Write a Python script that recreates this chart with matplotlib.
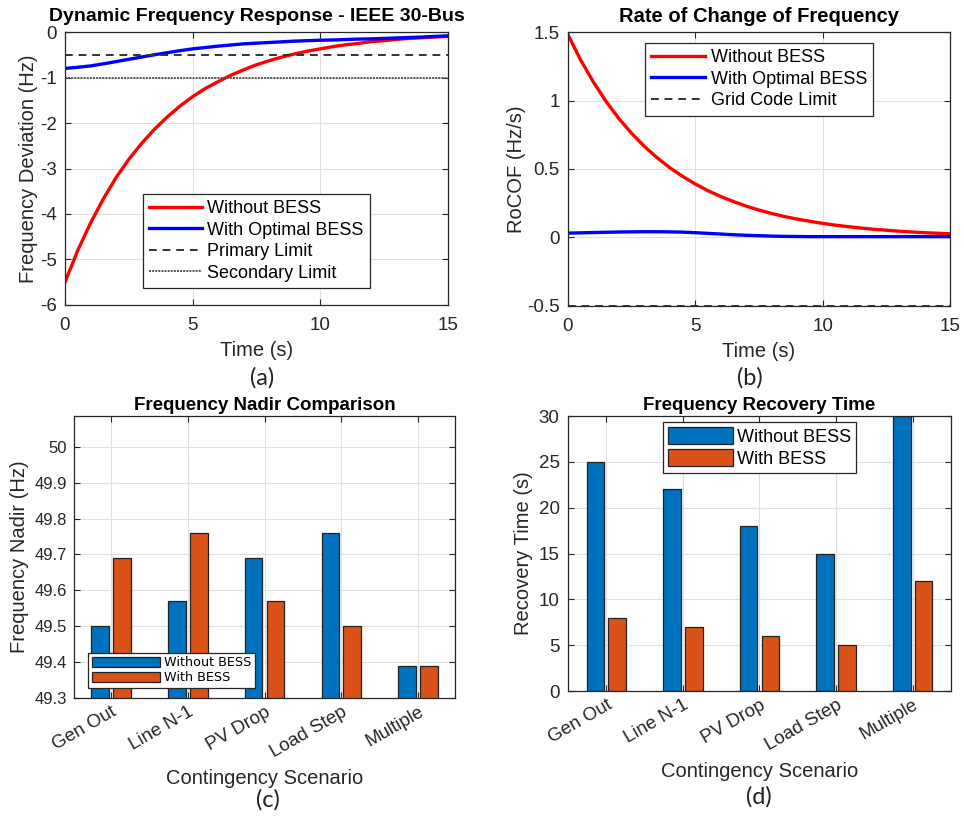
import matplotlib
matplotlib.use('Agg')
import matplotlib.pyplot as plt

plt.rcParams['font.family'] = ['Liberation Sans', 'DejaVu Sans']
plt.rcParams['axes.unicode_minus'] = False

# Time response data (s)
t = [0, 0.5, 1, 1.5, 2, 2.5, 3, 3.5, 4, 4.5, 5, 5.5, 6, 6.5, 7, 7.5,
     8, 8.5, 9, 9.5, 10, 10.5, 11, 11.5, 12, 12.5, 13, 13.5, 14, 14.5, 15]

# Frequency deviation (Hz)
df_no_bess = [-5.50, -4.80, -4.20, -3.67, -3.20, -2.80, -2.45, -2.14, -1.87, -1.63,
              -1.42, -1.24, -1.09, -0.95, -0.83, -0.72, -0.63, -0.55, -0.48, -0.42,
              -0.37, -0.32, -0.28, -0.25, -0.21, -0.19, -0.16, -0.14, -0.125, -0.11, -0.095]
df_bess = [-0.80, -0.775, -0.745, -0.70, -0.65, -0.60, -0.55, -0.50, -0.455, -0.41,
           -0.37, -0.34, -0.31, -0.285, -0.26, -0.245, -0.23, -0.215, -0.20, -0.19,
           -0.18, -0.175, -0.165, -0.155, -0.15, -0.14, -0.13, -0.12, -0.11, -0.095, -0.085]
primary_limit = -0.5
secondary_limit = -1.0

# RoCoF (Hz/s)
rocof_no_bess = [1.48, 1.295, 1.134, 0.992, 0.868, 0.760, 0.665, 0.582, 0.509, 0.446,
                 0.390, 0.341, 0.299, 0.262, 0.229, 0.200, 0.175, 0.153, 0.134, 0.118,
                 0.103, 0.090, 0.079, 0.069, 0.060, 0.053, 0.046, 0.040, 0.035, 0.031, 0.027]
rocof_bess = [0.032, 0.034, 0.036, 0.038, 0.040, 0.041, 0.042, 0.042, 0.041, 0.039,
              0.035, 0.030, 0.025, 0.020, 0.016, 0.013, 0.010, 0.008, 0.007, 0.006,
              0.006, 0.006, 0.006, 0.006, 0.006, 0.006, 0.006, 0.006, 0.006, 0.006, 0.006]
grid_code_limit = -0.5

# Contingency scenarios
scenarios = ['Gen Out', 'Line N-1', 'PV Drop', 'Load Step', 'Multiple']
nadir_no_bess = [49.50, 49.57, 49.69, 49.76, 49.39]
nadir_bess = [49.69, 49.76, 49.57, 49.50, 49.39]
recovery_no_bess = [25, 22, 18, 15, 30]
recovery_bess = [8, 7, 6, 5, 12]

TXT = '#262626'
BLUE = '#0072BD'
ORANGE = '#D95319'


def matlab_style(ax):
    ax.grid(True, color='#e0e0e0', linewidth=0.8)
    ax.set_axisbelow(True)
    ax.tick_params(direction='in', top=True, right=True, colors=TXT,
                   labelsize=13.5, length=4, width=0.8, pad=6)
    for s in ax.spines.values():
        s.set_color(TXT)
        s.set_linewidth(0.9)


fig = plt.figure(figsize=(9.64, 8.17), dpi=100)

# (a) frequency deviation
ax1 = fig.add_axes([0.0674, 0.6267, 0.3973, 0.3341])
ax1.plot(t, df_no_bess, color='red', lw=2.4, label='Without BESS')
ax1.plot(t, df_bess, color='blue', lw=2.4, label='With Optimal BESS')
ax1.axhline(primary_limit, color='#333333', ls=(0, (4, 3)), lw=1.4, label='Primary Limit')
ax1.axhline(secondary_limit, color='#555555', ls=(0, (1, 0.6)), lw=1.4, label='Secondary Limit')
ax1.set_xlim(0, 15)
ax1.set_ylim(-6, 0)
ax1.set_xticks([0, 5, 10, 15])
ax1.set_yticks([-6, -5, -4, -3, -2, -1, 0])
matlab_style(ax1)
ax1.tick_params(axis='x', pad=9)
ax1.set_title('Dynamic Frequency Response - IEEE 30-Bus', fontsize=14,
              fontweight='bold', pad=8)
ax1.set_xlabel('Time (s)', fontsize=14.5, color=TXT, labelpad=5)
ax1.set_ylabel('Frequency Deviation (Hz)', fontsize=14.5, color=TXT, labelpad=1)
leg = ax1.legend(loc='upper center', bbox_to_anchor=(0.5, 0.407), fontsize=13,
                 handlelength=2.9, borderaxespad=0, fancybox=False,
                 edgecolor=TXT, framealpha=1, labelspacing=0.25,
                 handletextpad=0.3, borderpad=0.35)
leg.get_frame().set_linewidth(0.9)

# (b) RoCoF
ax2 = fig.add_axes([0.5892, 0.6255, 0.3963, 0.3353])
ax2.plot(t, rocof_no_bess, color='red', lw=2.4, label='Without BESS')
ax2.plot(t, rocof_bess, color='blue', lw=2.4, label='With Optimal BESS')
ax2.axhline(grid_code_limit, color='#333333', ls=(0, (4, 3)), lw=1.4, label='Grid Code Limit')
ax2.set_xlim(0, 15)
ax2.set_ylim(-0.5, 1.5)
ax2.set_xticks([0, 5, 10, 15])
ax2.set_yticks([-0.5, 0, 0.5, 1, 1.5])
ax2.set_yticklabels(['-0.5', '0', '0.5', '1', '1.5'])
matlab_style(ax2)
ax2.tick_params(axis='x', pad=9)
ax2.set_title('Rate of Change of Frequency', fontsize=14.5, fontweight='bold', pad=7)
ax2.set_xlabel('Time (s)', fontsize=14.5, color=TXT, labelpad=5)
ax2.set_ylabel('RoCOF (Hz/s)', fontsize=14.5, color=TXT, labelpad=1)
leg = ax2.legend(loc='upper center', bbox_to_anchor=(0.5, 0.96), fontsize=13,
                 handlelength=3.0, borderaxespad=0, fancybox=False,
                 edgecolor=TXT, framealpha=1, labelspacing=0.25,
                 handletextpad=0.3, borderpad=0.35)
leg.get_frame().set_linewidth(0.9)

# (c) frequency nadir
x = list(range(1, len(scenarios) + 1))
bw = 0.23
off = 0.143
ax3 = fig.add_axes([0.0768, 0.1457, 0.3952, 0.3452])
ax3.bar([i - off for i in x], nadir_no_bess, bw, color=BLUE, edgecolor='#222222',
        lw=0.9, label='Without BESS')
ax3.bar([i + off for i in x], nadir_bess, bw, color=ORANGE, edgecolor='#222222',
        lw=0.9, label='With BESS')
ax3.set_xlim(0.52, 5.48)
ax3.set_ylim(49.3, 50.086)
ax3.set_xticks(x)
ax3.set_yticks([49.3, 49.4, 49.5, 49.6, 49.7, 49.8, 49.9, 50.0])
ax3.set_yticklabels(['49.3', '49.4', '49.5', '49.6', '49.7', '49.8', '49.9', '50'])
matlab_style(ax3)
ax3.tick_params(axis='y', labelsize=12, pad=5)
ax3.tick_params(axis='x', pad=4)
ax3.set_xticklabels(scenarios, rotation=30, ha='right', rotation_mode='anchor',
                    fontsize=13.5)
ax3.set_title('Frequency Nadir Comparison', fontsize=13.5, fontweight='bold', pad=4)
ax3.set_xlabel('Contingency Scenario', fontsize=14.5, color=TXT, labelpad=6)
ax3.set_ylabel('Frequency Nadir (Hz)', fontsize=14.5, color=TXT, labelpad=4)
leg = ax3.legend(loc='lower left', bbox_to_anchor=(0.037, 0.035),
                 handlelength=5.3, handleheight=0.85, borderaxespad=0,
                 fancybox=False, edgecolor=TXT, framealpha=1, labelspacing=0.15,
                 handletextpad=0.3, borderpad=0.3,
                 prop={'family': 'DejaVu Sans', 'size': 9.2})
leg.get_frame().set_linewidth(0.9)

# (d) recovery time
ax4 = fig.add_axes([0.5892, 0.1542, 0.3973, 0.3366])
ax4.bar([i - off for i in x], recovery_no_bess, bw, color=BLUE, edgecolor='#222222',
        lw=0.9, label='Without BESS')
ax4.bar([i + off for i in x], recovery_bess, bw, color=ORANGE, edgecolor='#222222',
        lw=0.9, label='With BESS')
ax4.set_xlim(0.5, 5.5)
ax4.set_ylim(0, 30)
ax4.set_xticks(x)
ax4.set_yticks([0, 5, 10, 15, 20, 25, 30])
matlab_style(ax4)
ax4.tick_params(axis='x', pad=4)
ax4.set_xticklabels(scenarios, rotation=30, ha='right', rotation_mode='anchor',
                    fontsize=13.5)
ax4.set_title('Frequency Recovery Time', fontsize=13.5, fontweight='bold', pad=4)
ax4.set_xlabel('Contingency Scenario', fontsize=14.5, color=TXT, labelpad=6)
ax4.set_ylabel('Recovery Time (s)', fontsize=14.5, color=TXT, labelpad=4)
leg = ax4.legend(loc='upper center', bbox_to_anchor=(0.5, 0.978), fontsize=13,
                 handlelength=3.6, handleheight=1.0, borderaxespad=0,
                 fancybox=False, edgecolor=TXT, framealpha=1, labelspacing=0.2,
                 handletextpad=0.2, borderpad=0.3)
leg.get_frame().set_linewidth(0.9)

# panel captions
for label, xc, yc in [('(a)', 0.272, 0.538), ('(b)', 0.778, 0.537),
                      ('(c)', 0.278, 0.021), ('(d)', 0.787, 0.025)]:
    fig.text(xc, yc, label, fontsize=17, family=['Lato', 'DejaVu Sans'],
             ha='center', va='center', color='#222222')

fig.savefig('out.png', dpi=100)
